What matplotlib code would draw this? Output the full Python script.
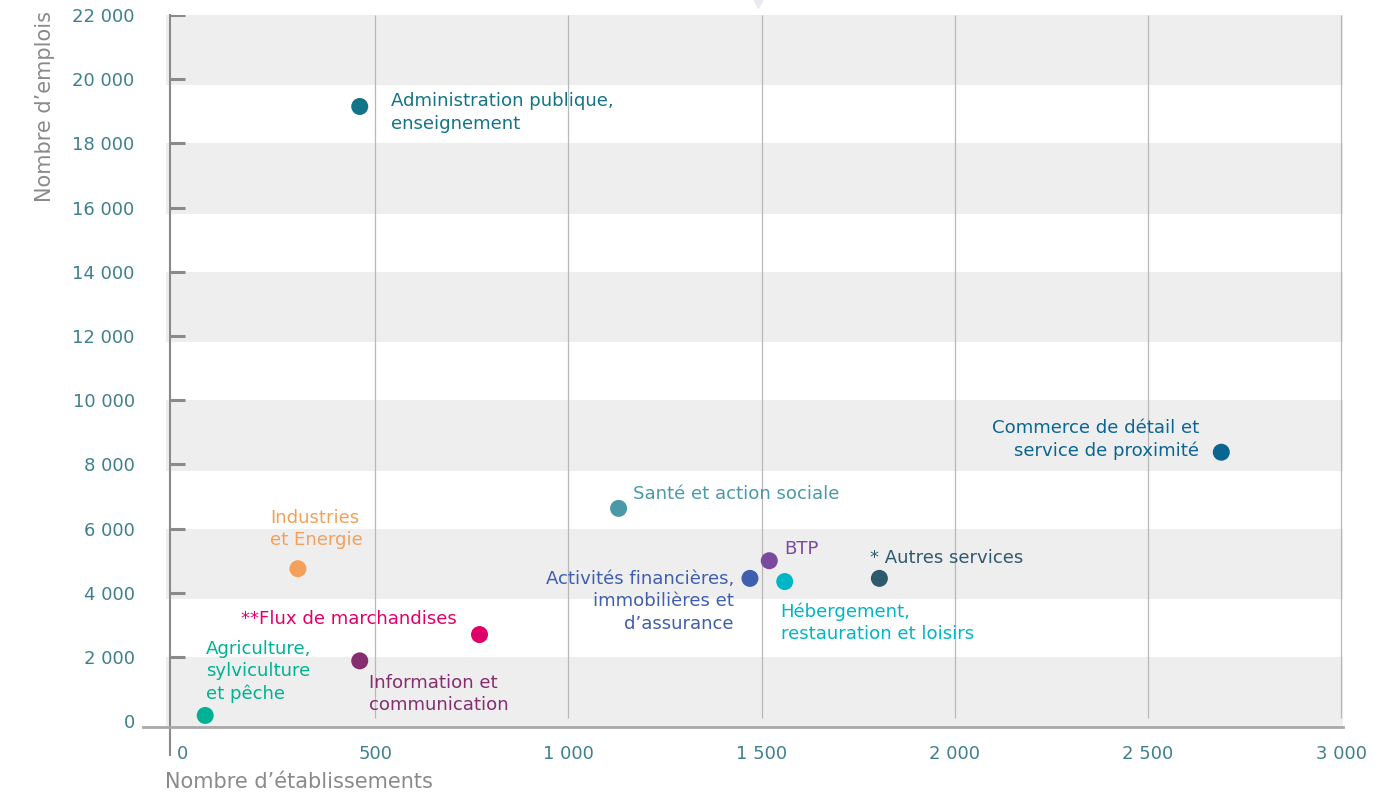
import matplotlib.pyplot as plt

# data
secteurs = ["Administration publique,\nenseignement",
            "Commerce de détail et\nservice de proximité",
            "Santé et action sociale",
            "Industries\net Energie",
            "BTP",
            "Activités financières,\nimmobilières et\nd’assurance",
            "Hébergement,\nrestauration et loisirs",
            "* Autres services",
            "**Flux de marchandises",
            "Information et\ncommunication",
            "Agriculture,\nsylviculture\net pêche"]
etablissements = [460, 2690, 1130, 300, 1520, 1470, 1560, 1805, 770, 460, 60]
emplois = [19150, 8380, 6630, 4750, 5000, 4450, 4350, 4450, 2700, 1880, 180]
couleurs = ["#127486", "#0a6690", "#4a99a8", "#f5a05a", "#7a4a9f", "#3f5eae",
            "#00b5c6", "#2e5a6e", "#e0006a", "#852d6e", "#00b293"]
# label placement: offset in pixels (dx, dy up), ha
offsets = [(31, -6, "left"), (-22, 13, "right"), (14, 14, "left"), (-28, 40, "left"),
           (15, 12, "left"), (-16, -23, "right"), (-4, -41, "left"), (-9, 20, "left"),
           (-23, 16, "right"), (9, -33, "left"), (1, 44, "left")]

xticks = [0, 500, 1000, 1500, 2000, 2500, 3000]
xlabels = ["0", "500", "1 000", "1 500", "2 000", "2 500", "3 000"]
yticks = [0, 2000, 4000, 6000, 8000, 10000, 12000, 14000, 16000, 18000, 20000, 22000]
ylabels = ["0", "2 000", "4 000", "6 000", "8 000", "10 000", "12 000", "14 000",
           "16 000", "18 000", "20 000", "22 000"]

plt.rcParams['font.family'] = ['DejaVu Sans']
tickcol = "#3e8090"
greycol = "#8a8a8a"

fig = plt.figure(figsize=(13.75, 7.94), dpi=100)
ax = fig.add_axes([143/1375, 1-727/794, 1200/1375, 712/794])
ax.set_xlim(-101, 3005)
ax.set_ylim(-180, 22000)

# alternating bands
for t in [2000, 6000, 10000, 14000, 18000, 22000]:
    ax.axhspan(t - 2190, t, xmin=60/3106, xmax=1, color="#eeeeee", lw=0, zorder=0)

# vertical grid lines
ax.vlines(xticks[1:], 90, 22000, color="#b8b8b8", lw=0.9, zorder=1)

# y axis line and inner ticks
ax.plot([-31, -31], [-1060, 22000], color=greycol, lw=1.5, clip_on=False, zorder=2)
ax.hlines(yticks[1:], -31, 8, color=greycol, lw=2.2, zorder=2)

for s in ["top", "right", "left"]:
    ax.spines[s].set_visible(False)
ax.spines["bottom"].set_color("#a8a8a8")
ax.spines["bottom"].set_linewidth(2)

ax.set_xticks(xticks)
ax.set_xticklabels(xlabels)
ax.set_yticks(yticks)
ax.set_yticklabels(ylabels)
ax.tick_params(axis="x", length=0, pad=13, labelsize=13, labelcolor=tickcol)
ax.tick_params(axis="y", length=0, pad=6, labelsize=13, labelcolor=tickcol)

ax.scatter(etablissements, emplois, s=150, c=couleurs, zorder=4, linewidths=0)

for nom, x, y, c, (dx, dy, ha) in zip(secteurs, etablissements, emplois, couleurs, offsets):
    ax.annotate(nom, (x, y), xytext=(dx*0.72, dy*0.72), textcoords="offset points",
                ha=ha, va="center", multialignment=ha, color=c, fontsize=13.1,
                linespacing=1.3, zorder=5)

fig.text(45/1375, 1-107/794, "Nombre d’emplois", rotation=90, ha="center", va="center",
         color=greycol, fontsize=15)
fig.text(165/1375, 1-782/794, "Nombre d’établissements", ha="left", va="center",
         color=greycol, fontsize=15)

# small pale marker at the top edge
fig.lines.append(plt.Line2D([758/1375], [1-1/794], marker="v", ms=10, color="#ebe9f0",
                            transform=fig.transFigure))

fig.savefig("out.png", dpi=100)
